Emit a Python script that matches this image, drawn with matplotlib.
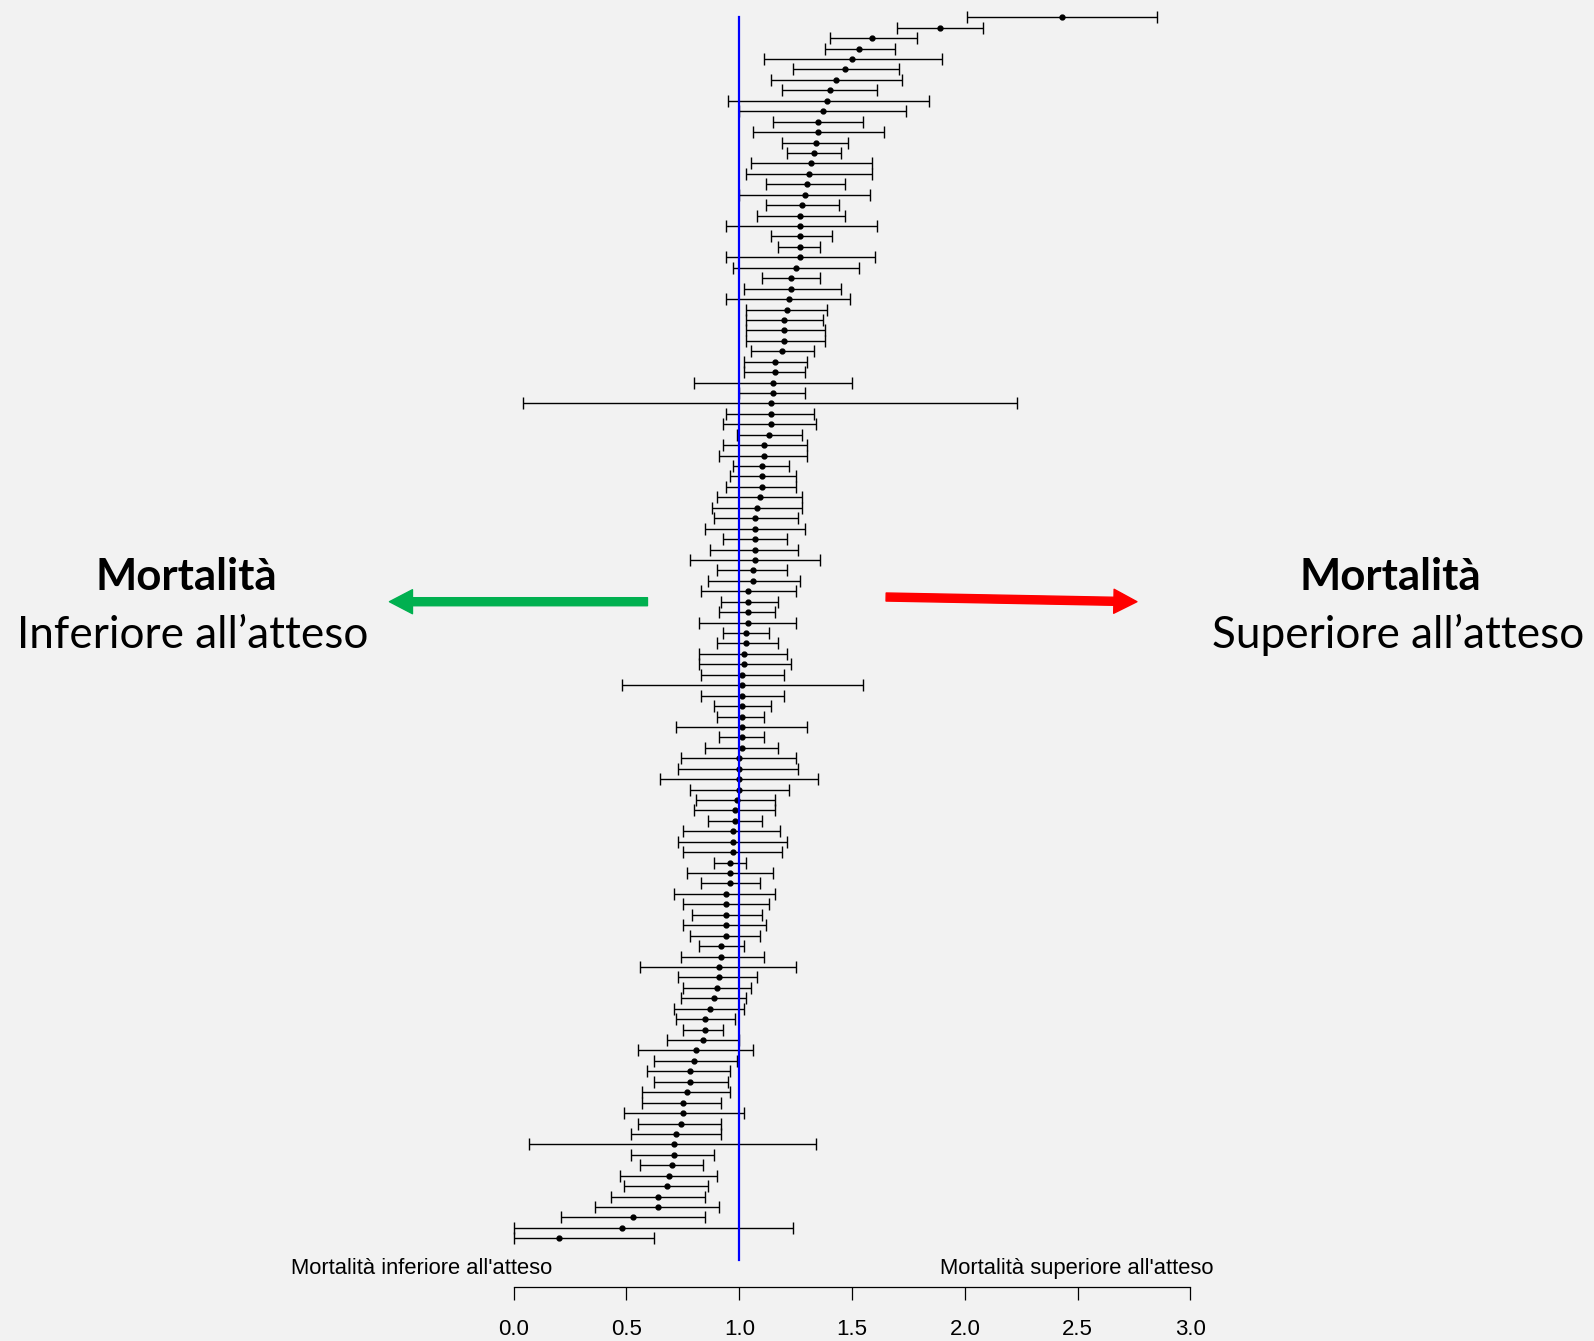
import matplotlib
matplotlib.use('Agg')
import matplotlib.pyplot as plt
import numpy as np

# SMR per struttura (dall'alto in basso) con intervallo di confidenza
smr = [2.43, 1.89, 1.59, 1.53, 1.50, 1.47, 1.43, 1.40, 1.39, 1.37, 1.35, 1.35, 1.34, 1.33, 1.32, 1.31, 1.30, 1.29, 1.28,
       1.27, 1.27, 1.27, 1.27, 1.27, 1.25, 1.23, 1.23, 1.22, 1.21, 1.20, 1.20, 1.20, 1.19, 1.16, 1.16, 1.15, 1.15, 1.14, 1.14,
       1.14, 1.13, 1.11, 1.11, 1.10, 1.10, 1.10, 1.09, 1.08, 1.07, 1.07, 1.07, 1.07, 1.07, 1.06, 1.06, 1.04, 1.04, 1.04,
       1.04, 1.03, 1.03, 1.02, 1.02, 1.01, 1.01, 1.01, 1.01, 1.01, 1.01, 1.01, 1.01, 1.00, 1.00, 1.00, 1.00, 0.99, 0.98,
       0.98, 0.97, 0.97, 0.97, 0.96, 0.96, 0.96, 0.94, 0.94, 0.94, 0.94, 0.94, 0.92, 0.92, 0.91, 0.91, 0.90, 0.89, 0.87,
       0.85, 0.85, 0.84, 0.81, 0.80, 0.78, 0.78, 0.77, 0.75, 0.75, 0.74, 0.72, 0.71, 0.71, 0.70, 0.69, 0.68, 0.64, 0.64,
       0.53, 0.48, 0.20]
ci_low = [2.01, 1.70, 1.40, 1.38, 1.11, 1.24, 1.14, 1.19, 0.95, 1.00, 1.15, 1.06, 1.19, 1.21, 1.05, 1.03, 1.12, 1.00, 1.12,
          1.08, 0.94, 1.14, 1.17, 0.94, 0.97, 1.10, 1.02, 0.94, 1.03, 1.03, 1.03, 1.03, 1.05, 1.02, 1.02, 0.80, 1.00, 0.04, 0.94,
          0.93, 0.99, 0.93, 0.91, 0.97, 0.96, 0.94, 0.90, 0.88, 0.89, 0.85, 0.93, 0.87, 0.78, 0.90, 0.86, 0.83, 0.92, 0.91,
          0.82, 0.93, 0.90, 0.82, 0.82, 0.83, 0.48, 0.83, 0.89, 0.90, 0.72, 0.91, 0.85, 0.74, 0.73, 0.65, 0.78, 0.81, 0.80,
          0.86, 0.75, 0.73, 0.75, 0.89, 0.77, 0.83, 0.71, 0.75, 0.79, 0.75, 0.78, 0.82, 0.74, 0.56, 0.73, 0.75, 0.74, 0.71,
          0.72, 0.75, 0.68, 0.55, 0.62, 0.59, 0.62, 0.57, 0.57, 0.49, 0.55, 0.52, 0.07, 0.52, 0.56, 0.47, 0.49, 0.43, 0.36,
          0.21, 0.00, 0.00]
ci_high = [2.85, 2.08, 1.79, 1.69, 1.90, 1.71, 1.72, 1.61, 1.84, 1.74, 1.55, 1.64, 1.48, 1.45, 1.59, 1.59, 1.47, 1.58, 1.44,
           1.47, 1.61, 1.41, 1.36, 1.60, 1.53, 1.36, 1.45, 1.49, 1.39, 1.37, 1.38, 1.38, 1.33, 1.30, 1.29, 1.50, 1.29, 2.23, 1.33,
           1.34, 1.28, 1.30, 1.30, 1.22, 1.25, 1.25, 1.28, 1.28, 1.26, 1.29, 1.21, 1.26, 1.36, 1.21, 1.27, 1.25, 1.17, 1.16,
           1.25, 1.13, 1.17, 1.21, 1.23, 1.20, 1.55, 1.20, 1.14, 1.11, 1.30, 1.11, 1.17, 1.25, 1.26, 1.35, 1.22, 1.16, 1.16,
           1.10, 1.18, 1.21, 1.19, 1.03, 1.15, 1.09, 1.16, 1.13, 1.10, 1.12, 1.09, 1.02, 1.11, 1.25, 1.08, 1.05, 1.03, 1.02,
           0.98, 0.93, 1.00, 1.06, 0.99, 0.96, 0.95, 0.96, 0.92, 1.02, 0.92, 0.92, 1.34, 0.89, 0.84, 0.90, 0.86, 0.85, 0.91,
           0.85, 1.24, 0.62]

x_ticks = [0.0, 0.5, 1.0, 1.5, 2.0, 2.5, 3.0]
tick_labels = ['0.0', '0.5', '1.0', '1.5', '2.0', '2.5', '3.0']
lab_low = "Mortalità inferiore all'atteso"
lab_high = "Mortalità superiore all'atteso"
big_title = 'Mortalità'
big_low = 'Inferiore all\u2019atteso'
big_high = 'Superiore all\u2019atteso'

n = len(smr)
ypos = np.arange(n, 0, -1)
bg = '#f2f2f2'

fig = plt.figure(figsize=(15.94, 13.41), dpi=100)
fig.patch.set_facecolor(bg)
ax = fig.add_axes([0, 0, 1, 1])
ax.set_facecolor(bg)
ax.set_xlim(-2.2774, 4.7892)
ax.set_ylim(-8.841, 119.658)

# barre di errore + punti
smr_a = np.array(smr)
err = [smr_a - np.array(ci_low), np.array(ci_high) - smr_a]
ax.errorbar(smr, ypos, xerr=err, fmt='o', color='black', ms=3.5,
            elinewidth=1.0, capsize=4, capthick=1.0, zorder=3)

# linea di riferimento SMR = 1
ax.plot([1, 1], [-1.08, n], color='#0000ff', lw=1.6, zorder=5)

# asse x stile R
for s in ['left', 'top', 'right']:
    ax.spines[s].set_visible(False)
ax.spines['bottom'].set_position(('data', -3.64))
ax.spines['bottom'].set_bounds(0, 3)
ax.spines['bottom'].set_linewidth(0.9)
ax.set_xticks(x_ticks)
ax.set_xticklabels(tick_labels, fontsize=16, family='Liberation Sans')
ax.tick_params(axis='x', direction='out', length=9.4, width=0.9, pad=13.5)
ax.set_yticks([])

ax.text(-0.409, -2.45, lab_low, ha='center', va='baseline', fontsize=15.8, family='Liberation Sans')
ax.text(2.497, -2.45, lab_high, ha='center', va='baseline', fontsize=15.8, family='Liberation Sans')

# scritte grandi
ax.text(-1.451, 63.09, big_title, ha='center', va='baseline', fontsize=31.5, fontweight='bold', family='Lato')
ax.text(-1.422, 57.56, big_low, ha='center', va='baseline', fontsize=31.8, family='Lato')
ax.text(3.885, 63.09, big_title, ha='center', va='baseline', fontsize=31.5, fontweight='bold', family='Lato')
ax.text(3.92, 57.56, big_high, ha='center', va='baseline', fontsize=31.8, family='Lato')

# frecce
ax.annotate('', xy=(-0.551, 62.0), xytext=(0.593, 62.0),
            arrowprops=dict(arrowstyle='simple,head_length=16.6,head_width=17.3,tail_width=5.8',
                            color='#00b050', shrinkA=0, shrinkB=0, mutation_scale=1))
ax.annotate('', xy=(2.763, 62.0), xytext=(1.651, 62.45),
            arrowprops=dict(arrowstyle='simple,head_length=16.6,head_width=17.3,tail_width=5.8',
                            color='#ff0000', shrinkA=0, shrinkB=0, mutation_scale=1))

fig.savefig('out.png', dpi=100, facecolor=bg)
